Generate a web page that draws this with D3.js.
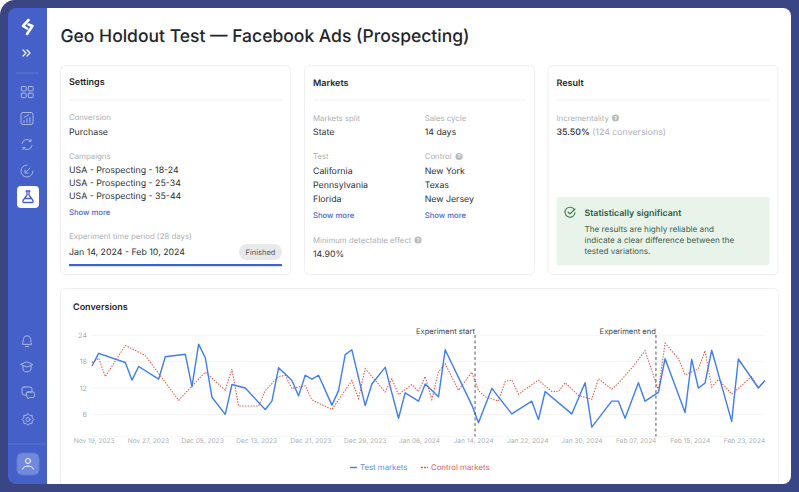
<!DOCTYPE html>
<html>
<head>
<meta charset="utf-8">
<script src="https://cdn.jsdelivr.net/npm/d3@7"></script>
<style>
html,body{margin:0;padding:0;background:#fff;overflow:hidden}
svg{display:block}
text{font-family:Inter,"Noto Sans",sans-serif;text-rendering:geometricPrecision}
</style>
</head>
<body>
<script>
// step = position along the plotted line, only the corner points are listed
var testSteps = [0,1,5,6,7,10,11,14,15,16,17,18,20,21,23,26,27,28,29,30,31,32,33,34,36,37,38,39,41,42,44,46,47,49,50,52,53,57,58,60,63,66,67,68,72,74,75,78,79,80,82,83,85,86,89,90,91,92,93,96,97,100,101];
var testValues = [17,19.9,17.8,13.8,16.9,14,19.1,19.7,12.3,22,18.9,9.9,6,12.8,12,7.1,9,16.6,15.2,13.7,10.2,14.9,14,14.9,8.1,11.4,19.6,20.7,8,12.9,16.7,5.1,10.9,9,12.9,10,20.7,8.1,4.1,11.9,6.1,9,4.8,11.2,6.1,13.2,3.1,9,9,5.1,13.2,9,11,18.7,6.4,18.5,12,13.1,20.6,4.4,18.6,12,13.7];
var controlSteps = [0,1,2,5,8,10,13,17,20,21,22,25,26,28,29,30,32,33,36,39,40,41,44,45,46,48,49,50,51,52,53,55,57,58,59,61,62,63,64,67,69,70,71,73,75,76,78,79,81,83,85,86,88,89,91,92,93,94,96,99,100,101];
var controlValues = [17.8,18.8,14.6,21.7,19.4,15.3,9.2,15.6,11.5,16.3,7.9,7.9,11.4,14.6,14.9,11.9,12.5,9.3,7.1,13.7,9.6,16.4,11.1,14.1,10.5,12.8,11.2,14.6,9.4,15.7,17.5,11.5,15.6,11.4,10,9,13.5,13.8,10.6,13.8,11.2,11.2,13.2,10.3,9.4,14.1,11.7,13.1,16.5,20.5,11.5,22.2,18.7,15,16.3,20.5,12.2,14,10.6,14.6,12.1,13.7];
var tickDates = ["2023-11-19","2023-11-27","2023-12-05","2023-12-13","2023-12-21","2023-12-29","2024-01-06","2024-01-14","2024-01-22","2024-01-30","2024-02-07","2024-02-15","2024-02-23"];
var yTicks = [6,12,18,24];
var eventDates = ["2024-01-14","2024-02-10"];
var eventLabels = ["Experiment start","Experiment end"];

var parseDay = d3.utcParse("%Y-%m-%d");
var fmtDay = d3.utcFormat("%b %d, %Y");

var svg = d3.select("body").append("svg").attr("width",799).attr("height",492);

function txt(parent,x,y,s,size,color,weight,anchor){
  return parent.append("text").attr("x",x).attr("y",y).attr("dy","0.35em")
    .attr("font-size",size).attr("fill",color).attr("font-weight",weight||400)
    .attr("text-anchor",anchor||"start").text(s);
}

// frame
svg.append("rect").attr("x",0).attr("y",0).attr("width",815).attr("height",508).attr("rx",15).attr("fill","#3a4684");
svg.append("path").attr("fill","#fff").attr("d","M47 8H783a8 8 0 0 1 8 8V476a8 8 0 0 1-8 8H47Z");
svg.append("path").attr("fill","#4560c8").attr("d","M47 8V484H16a8 8 0 0 1-8-8V16a8 8 0 0 1 8-8Z");

// sidebar
var side = svg.append("g");
var ic = {fill:"none",stroke:"#a9b8ea","stroke-width":1,"stroke-linecap":"round","stroke-linejoin":"round"};
function icon(x,y,d,color){
  var p = side.append("path").attr("transform","translate("+x+","+y+")").attr("d",d);
  Object.keys(ic).forEach(function(k){p.attr(k,ic[k])});
  if(color) p.attr("stroke",color);
  return p;
}
icon(27.5,27,"M1-7L-4.5-1L-.5 1.5M1-2.5L5-1L-.5 7","#fff").attr("stroke-width",2.6);
icon(27,53,"M-4-3L-1 0L-4 3M0-3L3 0L0 3","#fff").attr("stroke-width",1.2);
side.append("line").attr("x1",16).attr("x2",39).attr("y1",73).attr("y2",73).attr("stroke","#6077d2");
icon(27,92,"M-5-5.5h3.5a.7.7 0 0 1 .7.7v3a.7.7 0 0 1-.7.7h-3.5a.7.7 0 0 1-.7-.7v-3a.7.7 0 0 1 .7-.7ZM2-5.5h3.5a.7.7 0 0 1 .7.7v3a.7.7 0 0 1-.7.7H2a.7.7 0 0 1-.7-.7v-3a.7.7 0 0 1 .7-.7ZM-5 1.2h3.5a.7.7 0 0 1 .7.7v3a.7.7 0 0 1-.7.7h-3.5a.7.7 0 0 1-.7-.7v-3a.7.7 0 0 1 .7-.7ZM2 1.2h3.5a.7.7 0 0 1 .7.7v3a.7.7 0 0 1-.7.7H2a.7.7 0 0 1-.7-.7v-3a.7.7 0 0 1 .7-.7Z");
icon(27,118.5,"M-4-6H4a2 2 0 0 1 2 2V4a2 2 0 0 1-2 2H-4a2 2 0 0 1-2-2V-4a2 2 0 0 1 2-2ZM-3 4V2M0 4V0M3 4V-1M-3-1L2-4");
icon(27,144.5,"M-5-1A5 5 0 0 1 4-3M5 1A5 5 0 0 1-4 3M4-5V-3H2M-4 5V3H-2");
icon(27,171,"M0-6A6 6 0 1 0 6 0M3-3L-2 2M-2-1V2H1");
side.append("rect").attr("x",17).attr("y",186).attr("width",22).attr("height",22).attr("rx",4).attr("fill","#fff");
icon(28,197,"M-2-6H2M-1-6V-2L-5 3.5C-5.5 4.5-5 5.5-4 5.5H4C5 5.5 5.5 4.5 5 3.5L1-2V-6M-3.5 1.5H3.5","#4560c8").attr("stroke-width",1.3);
icon(27,341,"M-4.5 3C-3.5 1-4-1-3.5-2.5A3.6 3.6 0 0 1 3.5-2.5C4-1 3.5 1 4.5 3ZM-1.5 5.5H1.5");
icon(27,367,"M0-5L6-2.5L0 0L-6-2.5ZM-4-1.5V3C-2 5.5 2 5.5 4 3V-1.5");
icon(28,393,"M-4-6H2a2 2 0 0 1 2 2V-1H0a1.5 1.5 0 0 0-1.5 1.5V2H-4a2 2 0 0 1-2-2V-4a2 2 0 0 1 2-2ZM0-1H5a1.5 1.5 0 0 1 1.5 1.5V3a1.5 1.5 0 0 1-1.5 1.5H1.5L0 6V4.5A1.5 1.5 0 0 1-1.5 3V.5A1.5 1.5 0 0 1 0-1Z");
icon(28,419.5,"M0-5.8L1.7-4.2L4.1-4.1L4.2-1.7L5.8 0L4.2 1.7L4.1 4.1L1.7 4.2L0 5.8L-1.7 4.2L-4.1 4.1L-4.2 1.7L-5.8 0L-4.2-1.7L-4.1-4.1L-1.7-4.2ZM2 0A2 2 0 1 1-2 0A2 2 0 1 1 2 0Z");
side.append("line").attr("x1",8).attr("x2",47).attr("y1",444).attr("y2",444).attr("stroke","#5a72cf");
side.append("rect").attr("x",17).attr("y",453).attr("width",22).attr("height",22).attr("rx",5).attr("fill","#728add").attr("stroke","#6179d5");
icon(28,464,"M2.5-3A2.5 2.5 0 1 1-2.5-3A2.5 2.5 0 1 1 2.5-3ZM-5.5 5C-4.5 1 4.5 1 5.5 5","#fff");

// title
txt(svg,60.5,36,"Geo Holdout Test \u2014 Facebook Ads (Prospecting)",17.5,"#22252b",500);

// cards
var dark = "#2e3138", gray = "#adafb5", link = "#4b66d6";
var labelSize = 7.8, valueSize = 8.8, linkSize = 7.7;
function card(x,y,w,h,title,titleY,titleX){
  svg.append("rect").attr("x",x+.5).attr("y",y+.5).attr("width",w).attr("height",h).attr("rx",5)
    .attr("fill","#fff").attr("stroke","#eeeff2");
  txt(svg,titleX||x+9,titleY,title,9,"#26282e",600);
}
function rule(x1,x2,y){
  svg.append("line").attr("x1",x1).attr("x2",x2).attr("y1",y).attr("y2",y).attr("stroke","#f0f1f3");
}
function help(x,y){
  svg.append("circle").attr("cx",x).attr("cy",y).attr("r",3.6).attr("fill","#b9bbc0");
  txt(svg,x,y,"?",5,"#fff",600,"middle");
}

card(60,65,230,209,"Settings",82);
rule(69,282,100);
txt(svg,69,117.5,"Conversion",labelSize,gray);
txt(svg,69,131.5,"Purchase",valueSize,dark);
txt(svg,69,156,"Campaigns",labelSize,gray);
["USA - Prospecting - 18-24","USA - Prospecting - 25-34","USA - Prospecting - 35-44"].forEach(function(s,i){
  txt(svg,69,170+i*13.2,s,valueSize,dark);
});
txt(svg,69,212.5,"Show more",linkSize,link,500);
txt(svg,69,236.5,"Experiment time period (28 days)",labelSize,gray);
txt(svg,69,251.5,"Jan 14, 2024 - Feb 10, 2024",valueSize,dark);
svg.append("rect").attr("x",239).attr("y",244).attr("width",43).attr("height",16).attr("rx",8).attr("fill","#e8e9eb");
txt(svg,260.5,252,"Finished",7.5,"#55585f",400,"middle");
svg.append("rect").attr("x",69).attr("y",264).attr("width",213).attr("height",2.2).attr("fill","#4261cc");

card(304,65,230,209,"Markets",82.5);
rule(313,525,100);
txt(svg,313,118,"Markets split",labelSize,gray);
txt(svg,313,132,"State",valueSize,dark);
txt(svg,424.7,118,"Sales cycle",labelSize,gray);
txt(svg,424.7,132,"14 days",valueSize,dark);
txt(svg,313,156.5,"Test",labelSize,gray);
txt(svg,424.7,156.5,"Control",labelSize,gray);
help(459,156.5);
["California","Pennsylvania","Florida"].forEach(function(s,i){ txt(svg,313,170.5+i*14.3,s,valueSize,dark); });
["New York","Texas","New Jersey"].forEach(function(s,i){ txt(svg,424.7,170.5+i*14.3,s,valueSize,dark); });
txt(svg,313,215.5,"Show more",linkSize,link,500);
txt(svg,424.7,215.5,"Show more",linkSize,link,500);
txt(svg,313,240,"Minimum detectable effect",labelSize,gray);
help(418,240);
txt(svg,313,254,"14.90%",valueSize,dark);

card(547.5,65,230,209,"Result",82.5);
rule(556.5,769.5,100);
txt(svg,556.5,118,"Incrementality",labelSize,gray);
help(615.5,118);
var res = txt(svg,556.5,132,"35.50%",valueSize,dark,500);
res.append("tspan").attr("fill",gray).attr("font-weight",400).text(" (124 conversions)");
svg.append("rect").attr("x",556.5).attr("y",197).attr("width",213).attr("height",68).attr("rx",2).attr("fill","#e8f3e9");
svg.append("path").attr("transform","translate(570,212.5)").attr("fill","none").attr("stroke","#3f7d50").attr("stroke-width",1.1)
  .attr("stroke-linecap","round").attr("d","M4.5-2.5A5 5 0 1 0 5 0M-2-.5L0 1.5L5-3.5");
txt(svg,584.5,212.5,"Statistically significant",8.8,"#2f5a3c",600);
["The results are highly reliable and","indicate a clear difference between the","tested variations."].forEach(function(s,i){
  txt(svg,584.5,229+i*11,s,8.15,"#43624f");
});

card(60,288,718,200,"Conversions",307,73);

// chart
var xStep = d3.scaleLinear().domain([0,101]).range([92,765]);
var xDate = d3.scaleUtc().domain([parseDay("2023-11-19"),parseDay("2024-02-23")]).range([93.7,744]);
var y = d3.scaleLinear().domain([1,24]).range([436.3,335.3]);

var grid = svg.append("g");
grid.selectAll("line").data([1].concat(yTicks)).enter().append("line")
  .attr("x1",92).attr("x2",765)
  .attr("y1",function(d){return y(d)}).attr("y2",function(d){return y(d)})
  .attr("stroke","#f4f5f6");

var yAxis = svg.append("g").attr("transform","translate(87,0)")
  .call(d3.axisLeft(y).tickValues(yTicks).tickSize(0).tickPadding(0));
yAxis.select(".domain").remove();
yAxis.selectAll("text").attr("font-size",7.2).attr("fill","#a9abb0").attr("font-family","Inter");

var xAxis = svg.append("g").attr("transform","translate(0,436)")
  .call(d3.axisBottom(xDate).tickValues(tickDates.map(parseDay)).tickFormat(fmtDay).tickSize(0).tickPadding(2));
xAxis.select(".domain").remove();
xAxis.selectAll("text").attr("font-size",6.6).attr("fill","#b0b2b7").attr("font-family","Inter");

var line = d3.line().x(function(d){return xStep(d[0])}).y(function(d){return y(d[1])});

svg.append("path").datum(d3.zip(controlSteps,controlValues)).attr("d",line)
  .attr("fill","none").attr("stroke","#e9574a").attr("stroke-width",1.1).attr("stroke-dasharray","1.4 1.4");
svg.append("path").datum(d3.zip(testSteps,testValues)).attr("d",line)
  .attr("fill","none").attr("stroke","#3f7df3").attr("stroke-width",1.4).attr("stroke-linejoin","round");

// experiment markers
eventDates.forEach(function(d,i){
  var ex = xDate(parseDay(d)) + (i==0?2:0);
  svg.append("line").attr("x1",ex).attr("x2",ex).attr("y1",335).attr("y2",436.5)
    .attr("stroke","#55585e").attr("stroke-width",1).attr("stroke-dasharray","3 2.5");
  txt(svg,ex,331,eventLabels[i],7.6,"#44474d",400,"end");
});

// legend
svg.append("line").attr("x1",350).attr("x2",357).attr("y1",467.5).attr("y2",467.5).attr("stroke","#3f7df3").attr("stroke-width",1.4);
txt(svg,360,467.5,"Test markets",7.8,"#5b8df2");
svg.append("line").attr("x1",421).attr("x2",428).attr("y1",467.5).attr("y2",467.5).attr("stroke","#e9574a").attr("stroke-width",1.3).attr("stroke-dasharray","2 1");
txt(svg,431,467.5,"Control markets",7.8,"#e0604f");

// card runs under the frame at the bottom
svg.append("rect").attr("x",47).attr("y",484).attr("width",745).attr("height",8).attr("fill","#3a4684");
</script>
</body>
</html>
